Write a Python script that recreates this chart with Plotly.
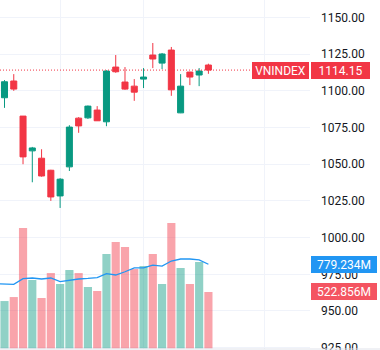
import plotly.graph_objects as go

# ---- data ----
day_index = list(range(23))
open_ = [1095.3, 1106.7, 1082.8, 1059.1, 1054.1, 1045.9, 1028.4, 1048.2, 1081.4, 1081.6,
         1086.9, 1078.9, 1116.2, 1106.0, 1103.2, 1108.0, 1124.4, 1118.9, 1127.8, 1085.0,
         1112.8, 1110.8, 1117.6]
high = [1107.3, 1111.4, 1082.8, 1061.8, 1060.2, 1046.2, 1040.5, 1076.6, 1082.1, 1090.0,
        1089.6, 1114.0, 1124.4, 1116.2, 1108.0, 1115.5, 1132.6, 1125.8, 1129.9, 1111.4,
        1113.0, 1115.5, 1118.5]
low = [1088.4, 1100.0, 1050.0, 1037.7, 1041.5, 1025.0, 1020.2, 1045.4, 1071.4, 1080.9,
       1079.5, 1075.9, 1112.3, 1100.7, 1093.2, 1101.9, 1115.5, 1114.8, 1096.6, 1084.8,
       1103.9, 1103.2, 1111.6]
close = [1106.2, 1101.2, 1055.0, 1061.1, 1042.0, 1027.7, 1039.8, 1075.3, 1076.1, 1089.6,
         1079.6, 1113.5, 1113.0, 1101.2, 1099.1, 1109.4, 1121.7, 1125.1, 1100.7, 1103.2,
         1109.4, 1113.5, 1114.15]
volume_m = [439, 476, 1115, 634, 467, 698, 597, 726, 698, 569,
            532, 874, 985, 939, 735, 763, 874, 597, 1161, 745,
            597, 800, 522.856]
ma_index = [-1] + day_index
volume_ma_m = [600, 599, 594, 646, 652, 643, 652, 618, 634, 643, 648,
               655, 692, 680, 710, 745, 745, 772, 763, 809, 828,
               828, 819, 779.234]
price_ticks = [925, 950, 975, 1000, 1025, 1050, 1075, 1100, 1125, 1150]
period_marks = [6, 15, 28]
symbol = "VNINDEX"

# ---- styles ----
UP = "#089981"
DOWN = "#F23645"
UP_VOL = "rgba(8,153,129,0.45)"
DOWN_VOL = "rgba(242,54,69,0.45)"
MA_COL = "#2196F3"
GRID = "#F0F3FA"
TXT = "#131722"
FONT = "Roboto"

vol_colors = [UP_VOL if c >= o else DOWN_VOL for o, c in zip(open_, close)]

fig = go.Figure()

fig.add_trace(go.Candlestick(
    x=day_index, open=open_, high=high, low=low, close=close,
    increasing=dict(line=dict(color=UP, width=1), fillcolor=UP),
    decreasing=dict(line=dict(color=DOWN, width=1), fillcolor=DOWN),
    whiskerwidth=0, showlegend=False, hoverinfo="skip",
    xaxis="x", yaxis="y",
))

fig.add_trace(go.Bar(
    x=day_index, y=volume_m, marker=dict(color=vol_colors, line=dict(width=0)),
    showlegend=False, hoverinfo="skip", xaxis="x", yaxis="y2",
))

fig.add_trace(go.Scatter(
    x=ma_index, y=volume_ma_m, mode="lines",
    line=dict(color=MA_COL, width=1.3), showlegend=False, hoverinfo="skip",
    xaxis="x", yaxis="y2",
))

last_close = close[-1]
last_vol = volume_m[-1]
last_ma = volume_ma_m[-1]

plot_w = 310.0

fig.update_layout(
    width=380, height=350,
    margin=dict(l=0, r=70, t=0, b=1, autoexpand=False),
    paper_bgcolor="white", plot_bgcolor="white",
    font=dict(family=FONT, size=12, color=TXT),
    boxgap=0.35, boxgroupgap=0.0, bargap=0.12,
    xaxis=dict(range=[-0.485, 32.96], tickvals=period_marks, showticklabels=False,
               showgrid=True, gridcolor=GRID, gridwidth=1, zeroline=False,
               showline=False, ticks="", automargin=False,
               rangeslider=dict(visible=False), fixedrange=True),
    yaxis=dict(range=[924.1, 1161.9], side="right", tickvals=price_ticks,
               ticktext=[f"{v:.2f}" for v in price_ticks],
               showgrid=True, gridcolor=GRID, gridwidth=1, zeroline=False,
               showline=False, ticks="", ticklabelstandoff=10,
               ticklabeloverflow="allow", automargin=False,
               tickfont=dict(family=FONT, size=12, color=TXT), fixedrange=True),
    yaxis2=dict(range=[-4.6, 3224], overlaying="y", side="left", visible=False,
                showgrid=False, zeroline=False, automargin=False, fixedrange=True),
    showlegend=False,
)

# last price dotted line
fig.add_shape(type="line", xref="paper", yref="y", x0=0, x1=252 / plot_w,
              y0=last_close, y1=last_close,
              line=dict(color=DOWN, width=1, dash="1px,2px"))
# time-axis separator
fig.add_shape(type="line", xref="paper", yref="paper", x0=0, x1=380 / plot_w,
              y0=0, y1=0, line=dict(color="#E0E3EB", width=1))

def label(text, x, xanchor, y, yref, w, bg):
    fig.add_annotation(text=text, x=x, xref="paper", xanchor=xanchor,
                       y=y, yref=yref, yanchor="middle", showarrow=False,
                       width=w, height=17, bgcolor=bg, borderpad=0, borderwidth=0,
                       font=dict(family=FONT, size=12, color="white"), align="center")

label(symbol, 309 / plot_w, "right", last_close, "y", 57, DOWN)
label(f"{last_close:.2f}", 311 / plot_w, "left", last_close, "y", 59, DOWN)
label(f"{last_ma:.3f}M", 311 / plot_w, "left", last_ma, "y2", 66, MA_COL)
label(f"{last_vol:.3f}M", 311 / plot_w, "left", last_vol, "y2", 66, "#F45461")

fig.write_html("out.html")
